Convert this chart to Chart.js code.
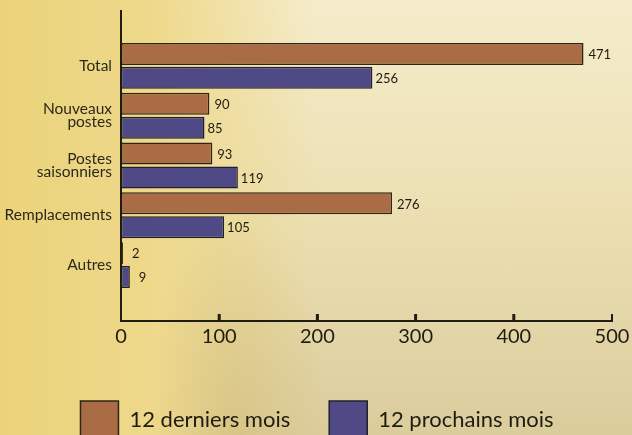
<!DOCTYPE html>
<html>
<head>
<meta charset="utf-8">
<script src="https://cdn.jsdelivr.net/npm/chart.js@4.4.1/dist/chart.umd.min.js"></script>
<style>
html, body { margin:0; padding:0; width:632px; height:435px; overflow:hidden; }
body {
  background:
    radial-gradient(ellipse 90px 230px at 235px 430px, rgba(185,165,105,.30), rgba(185,165,105,0)),
    linear-gradient(to right, #ebd37a 0%, #eed98c 25%, rgba(240,226,170,0) 50%),
    linear-gradient(to bottom, #f5eccb 0%, #ebdfb2 50%, #dbcc9c 100%);
}
#wrap { position:relative; width:632px; height:449px; }
</style>
</head>
<body>
<div id="wrap"><canvas id="chart" width="632" height="449"></canvas></div>
<script>
const categories = ["Total", ["Nouveaux","postes"], ["Postes","saisonniers"], "Remplacements", "Autres"];
const derniers = [471, 90, 93, 276, 2];
const prochains = [256, 85, 119, 105, 9];
const xTicks = [0, 100, 200, 300, 400, 500];
const seriesNames = ["12 derniers mois", "12 prochains mois"];

const ink = "#1f1c12";

// axis lines drawn past the bar area, tick marks pointing up
const axesFrame = {
  id: "axesFrame",
  afterLayout(chart){
    // let the category labels use the left padding instead of being clipped
    chart.scales.y.left = 0;
  },
  afterDraw(chart){
    const {ctx, chartArea:a, scales:{x}} = chart;
    const yTop = a.top - 31, yBot = a.bottom + 31;
    ctx.save();
    ctx.strokeStyle = ink;
    ctx.lineWidth = 2;
    ctx.beginPath();
    ctx.moveTo(a.left, yTop); ctx.lineTo(a.left, yBot + 1);
    ctx.moveTo(a.left, yBot); ctx.lineTo(x.getPixelForValue(500) + 1, yBot);
    ctx.stroke();
    xTicks.slice(1).forEach(v => {
      const px = x.getPixelForValue(v);
      ctx.lineWidth = v === 500 ? 2 : 3;
      ctx.beginPath();
      ctx.moveTo(px, yBot); ctx.lineTo(px, yBot - 7);
      ctx.stroke();
    });
    ctx.restore();
  }
};

const valueLabels = {
  id: "valueLabels",
  afterDatasetsDraw(chart){
    const {ctx} = chart;
    ctx.save();
    ctx.font = "13px Lato";
    ctx.fillStyle = ink;
    ctx.textBaseline = "middle";
    chart.data.datasets.forEach((ds, di) => {
      chart.getDatasetMeta(di).data.forEach((bar, i) => {
        const v = ds.data[i];
        const off = v < 20 ? 9 : (di === 0 ? 5 : 3);
        ctx.fillText(String(v), bar.x + off, bar.y + 1);
      });
    });
    ctx.restore();
  }
};

new Chart(document.getElementById("chart"), {
  type: "bar",
  data: {
    labels: categories,
    datasets: [
      {label: seriesNames[0], data: derniers, backgroundColor: "#a96c45", borderColor: "#2e2517", borderWidth: 1.5, borderSkipped: false,
       categoryPercentage: 0.96, barPercentage: 0.92},
      {label: seriesNames[1], data: prochains, backgroundColor: "#4f4a86", borderColor: "#221f2e", borderWidth: 1.5, borderSkipped: false,
       categoryPercentage: 0.96, barPercentage: 0.92},
    ]
  },
  options: {
    indexAxis: "y",
    responsive: false,
    animation: false,
    devicePixelRatio: 1,
    layout: { padding: {top: 41, right: 20, left: 22, bottom: 0} },
    scales: {
      x: {
        type: "linear", min: 0, max: 500,
        afterBuildTicks: s => { s.ticks = xTicks.map(v => ({value: v})); },
        grid: {display: false, drawTicks: false},
        border: {display: false},
        ticks: {padding: 35, color: ink, font: {family: "Lato", size: 20}},
        afterFit: s => { s.height = 72; s.paddingLeft = 0; s.paddingRight = 0; }
      },
      y: {
        grid: {display: false, drawTicks: false},
        border: {display: false},
        ticks: {padding: 9, color: "#2b291c", font: {family: "Lato", size: 15.5, lineHeight: 0.82}},
        afterFit: s => { s.width = 99; }
      }
    },
    plugins: {
      legend: {
        position: "bottom",
        labels: {boxWidth: 38, boxHeight: 38, padding: 39, color: ink, font: {family: "Lato", size: 22}}
      },
      tooltip: {enabled: false}
    }
  },
  plugins: [axesFrame, valueLabels]
});
</script>
</body>
</html>
